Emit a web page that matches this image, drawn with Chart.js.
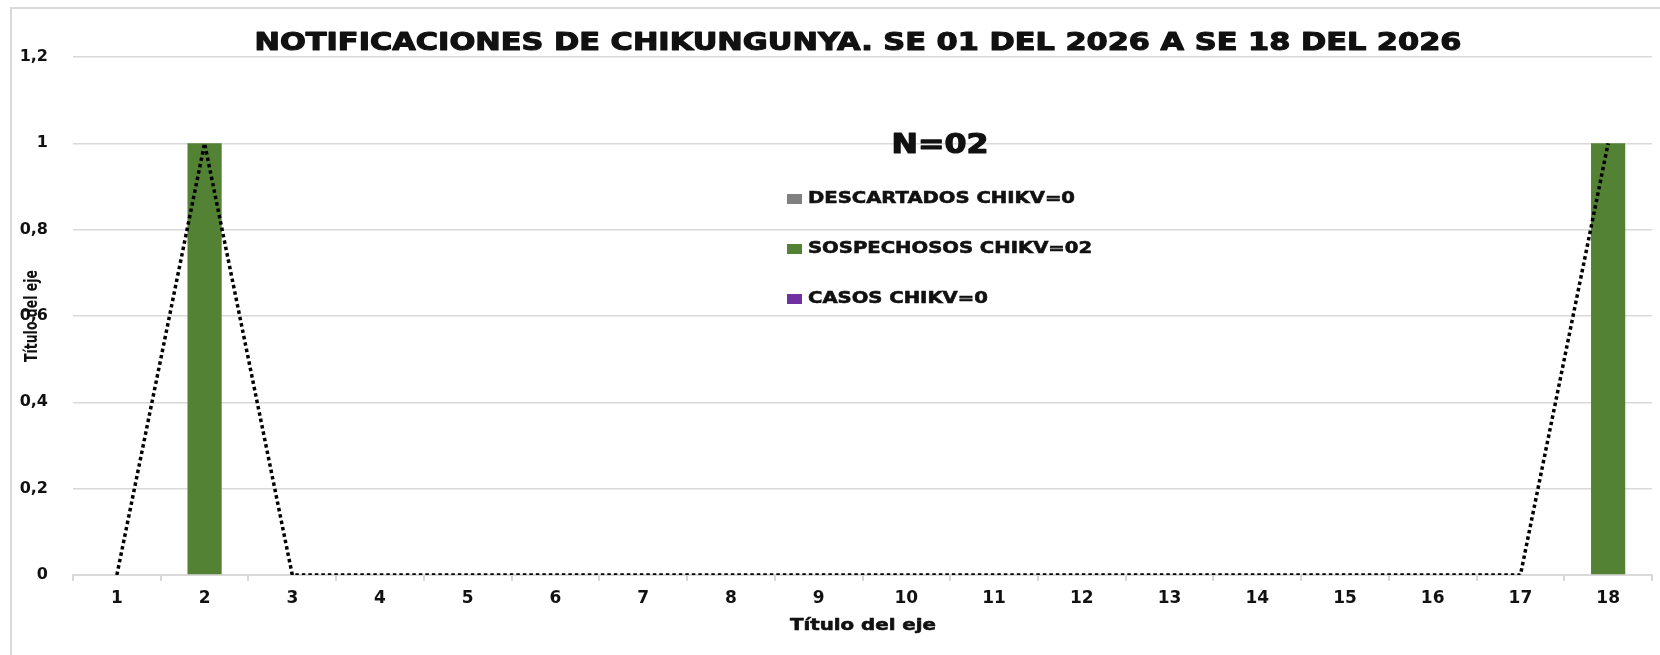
<!DOCTYPE html>
<html>
<head>
<meta charset="utf-8">
<script src="https://cdn.jsdelivr.net/npm/chart.js@4.4.0/dist/chart.umd.js"></script>
<style>
  html, body { margin: 0; padding: 0; background: #fff; }
  #wrap { position: relative; width: 1660px; height: 655px; overflow: hidden; }
  #frame { position: absolute; left: 10px; top: 7px; width: 1700px; height: 700px; border: 2px solid #d9d9d9; box-sizing: border-box; }
  #chart { position: absolute; left: 0; top: 0; }
</style>
</head>
<body>
<div id="wrap">
  <div id="frame"></div>
  <canvas id="chart" width="1660" height="655"></canvas>
</div>
<script>
// Chikungunya notifications by epidemiological week
const semanas = ['1','2','3','4','5','6','7','8','9','10','11','12','13','14','15','16','17','18'];
const descartados = [0,0,0,0,0,0,0,0,0,0,0,0,0,0,0,0,0,0];
const sospechosos = [0,1,0,0,0,0,0,0,0,0,0,0,0,0,0,0,0,1];
const casos = [0,0,0,0,0,0,0,0,0,0,0,0,0,0,0,0,0,0];
const tendencia = [0,1,0,0,0,0,0,0,0,0,0,0,0,0,0,0,0,1];
const yMax = 1.2;
const yStep = 0.2;

const tituloGrafico = 'NOTIFICACIONES DE CHIKUNGUNYA. SE 01 DEL 2026 A SE 18 DEL 2026';
const totalTexto = 'N=02';
const leyenda = ['DESCARTADOS CHIKV=0', 'SOSPECHOSOS CHIKV=02', 'CASOS CHIKV=0'];
const ejeTitulo = 'Título del eje';

const FONT = '"DejaVu Sans", sans-serif';
const INK = '#111';

// draws text squeezed/stretched to a target width, with a light stroke to thicken it
function fitText(ctx, text, x, y, font, width, align, stroke) {
    ctx.save();
    ctx.font = font;
    const w = ctx.measureText(text).width;
    const sx = width / w;
    ctx.translate(x, y);
    ctx.scale(sx, 1);
    ctx.textAlign = align || 'center';
    ctx.textBaseline = 'middle';
    ctx.fillStyle = INK;
    ctx.fillText(text, 0, 0);
    if (stroke) {
        ctx.strokeStyle = INK;
        ctx.lineWidth = stroke;
        ctx.lineJoin = 'round';
        ctx.strokeText(text, 0, 0);
    }
    ctx.restore();
    return sx;
}

const textos = {
    id: 'textos',
    afterDraw(chart) {
        const ctx = chart.ctx;
        fitText(ctx, tituloGrafico, 858, 44, 'bold 24px ' + FONT, 1207, 'center', 1.1);
        fitText(ctx, totalTexto, 940, 146, 'bold 26px ' + FONT, 97, 'center', 1.2);

        // legend inside plot
        const rows = [199, 249, 299];
        ctx.save();
        ctx.font = 'bold 16px ' + FONT;
        const sx = 267 / ctx.measureText(leyenda[0]).width;
        ctx.restore();
        for (let i = 0; i < 3; i++) {
            const ds = chart.data.datasets[i];
            ctx.fillStyle = ds.backgroundColor;
            ctx.fillRect(787, rows[i] - 5, 15, 10);
            ctx.save();
            ctx.font = 'bold 16px ' + FONT;
            ctx.translate(808, rows[i]);
            ctx.scale(sx, 1);
            ctx.textAlign = 'left';
            ctx.textBaseline = 'middle';
            ctx.fillStyle = INK;
            ctx.strokeStyle = INK;
            ctx.lineWidth = 0.6;
            ctx.fillText(ds.label, 0, 0);
            ctx.strokeText(ds.label, 0, 0);
            ctx.restore();
        }

        // axis titles
        fitText(ctx, ejeTitulo, 863, 626, 'bold 16px ' + FONT, 146, 'center', 0.6);
        ctx.save();
        ctx.translate(33, 316);
        ctx.rotate(-Math.PI / 2);
        fitText(ctx, ejeTitulo, 0, 0, 'bold 17px ' + FONT, 92, 'center', 0);
        ctx.restore();
    }
};

new Chart(document.getElementById('chart'), {
    type: 'bar',
    data: {
        labels: semanas,
        datasets: [
            { label: leyenda[0], data: descartados, backgroundColor: '#808080', categoryPercentage: 1, barPercentage: 0.39, order: 2 },
            { label: leyenda[1], data: sospechosos, backgroundColor: '#548235', categoryPercentage: 1, barPercentage: 0.39, order: 2 },
            { label: leyenda[2], data: casos, backgroundColor: '#7030a0', categoryPercentage: 1, barPercentage: 0.39, order: 2 },
            {
                type: 'line', label: 'Tendencia', data: tendencia,
                borderColor: '#000', borderWidth: 3.5, borderDash: [3.5, 3],
                pointRadius: 0, fill: false, tension: 0, order: 1
            }
        ]
    },
    options: {
        responsive: false,
        animation: false,
        layout: { padding: { left: 0, right: 8, top: 57, bottom: 0 } },
        plugins: {
            legend: { display: false },
            title: { display: false },
            tooltip: { enabled: false }
        },
        scales: {
            x: {
                stacked: true,
                grid: { drawOnChartArea: false, drawTicks: true, tickLength: 6, color: '#d9d9d9', lineWidth: 2 },
                border: { display: true, color: '#d9d9d9', width: 2 },
                ticks: { color: INK, font: { family: FONT, size: 17, weight: 'bold' }, padding: 7, maxRotation: 0 },
                afterFit: function(s) { s.height = 80; }
            },
            y: {
                stacked: false,
                min: 0,
                max: yMax,
                grid: { color: '#d9d9d9', lineWidth: 1.5, drawTicks: false },
                border: { display: false },
                ticks: {
                    stepSize: yStep,
                    color: INK,
                    padding: 25,
                    font: { family: FONT, size: 16, weight: 'bold' },
                    callback: function(v) { return String(Math.round(v * 10) / 10).replace('.', ','); }
                },
                afterFit: function(s) { s.width = 73; }
            }
        }
    },
    plugins: [textos]
});
</script>
</body>
</html>
